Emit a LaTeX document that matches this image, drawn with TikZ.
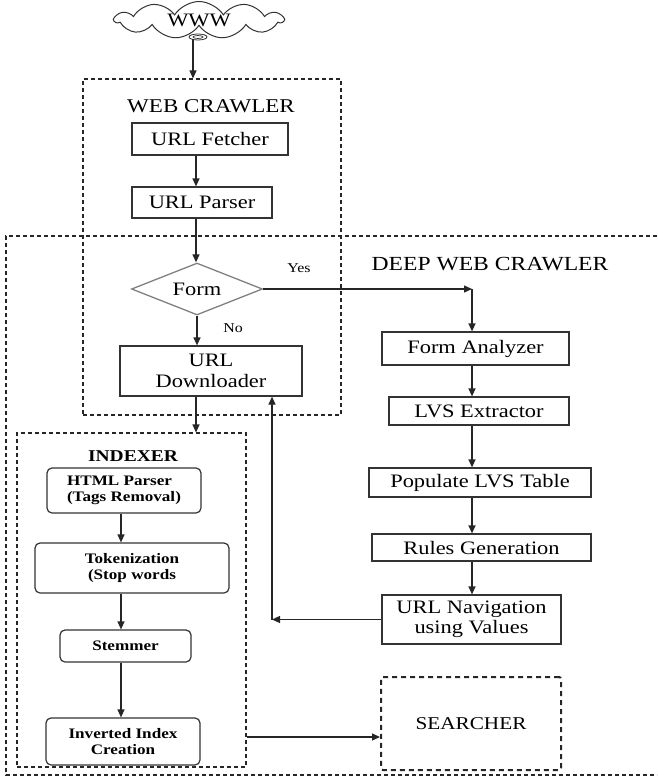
\documentclass[tikz,border=0pt]{standalone}
\usepackage{fontspec}
\setmainfont[FakeStretch=1.18]{Liberation Serif}
\usetikzlibrary{shapes.geometric,shapes.symbols,arrows.meta}
\begin{document}
\begin{tikzpicture}[x=1pt,y=-1pt,
  box/.style={draw=black!80, line width=1.2pt, inner sep=0pt, align=center, font=\fontsize{19}{20.5}\selectfont},
  bbox/.style={box, font=\fontsize{19}{20.5}\selectfont},
  rbox/.style={box, rounded corners=5pt, font=\bfseries\fontsize{14.5}{16.5}\selectfont},
  dbox/.style={draw=black!85, dash pattern=on 4pt off 3pt, line width=1.1pt, inner sep=0pt},
  arr/.style={draw=black!85, line width=1.2pt, -{Triangle[length=8pt,width=7pt]}},
  ttl/.style={font=\fontsize{19.5}{21}\selectfont, inner sep=0pt},
  lbl/.style={font=\fontsize{13.5}{15}\selectfont, inner sep=0pt}]
\useasboundingbox (0,0) rectangle (657,778);

% helper coordinates for connector positions
\coordinate (ca) at (193,39);
\coordinate (cx) at (196,0);
\coordinate (fx) at (197,0);
\coordinate (rx) at (472,0);
\coordinate (fb) at (272,0);
\coordinate (ix) at (121,0);
\coordinate (iy) at (0,737);

% cloud
\node[cloud, draw=black!80, line width=1pt, cloud puffs=11, cloud puff arc=115, aspect=4.6,
      minimum width=168pt, minimum height=37pt, inner sep=0pt, font=\fontsize{19}{20}\selectfont] (www) at (199,20) {WWW};
\draw[black!80, line width=0.8pt, fill=white] (198,37) ellipse [x radius=9pt, y radius=3pt];
\draw[black!80, line width=0.7pt] (198,37) ellipse [x radius=5pt, y radius=1.5pt];

% containers
\node[dbox, minimum width=258pt, minimum height=336pt] (wc) at (212,247) {};
\draw[dbox] (657,236) -- (6,236) -- (6,775) -- (657,775);
\node[dbox, minimum width=229pt, minimum height=334pt] (idx) at (131.5,600) {};

% titles
\node[ttl] (wct) at (211,106) {WEB CRAWLER};
\node[ttl, font=\fontsize{20}{22}\selectfont] (dwt) at (490,264) {DEEP WEB CRAWLER};
\node[ttl, font=\bfseries\fontsize{16.5}{18}\selectfont] (ixt) at (133,456) {INDEXER};

% web crawler
\node[box, minimum width=156pt, minimum height=32pt] (fetch) at (210,139) {URL Fetcher};
\node[box, minimum width=140pt, minimum height=31pt] (parser) at (202,202.5) {URL Parser};
\node[draw=black!50, line width=1.3pt, diamond, aspect=2.5, minimum width=131pt, minimum height=52pt,
      inner sep=0pt, font=\fontsize{19}{20}\selectfont] (form) at (197,289) {Form};
\node[box, minimum width=182pt, minimum height=50pt] (dl) at (211,371) {URL\\Downloader};
\node[lbl] (yes) at (299,268) {Yes};
\node[lbl] (no) at (233,328) {No};

% deep web crawler column
\node[box, minimum width=187pt, minimum height=33pt] (fa) at (475.5,348.5) {Form Analyzer};
\node[box, minimum width=180pt, minimum height=28pt] (lvs) at (479,411) {LVS Extractor};
\node[box, minimum width=222pt, minimum height=29pt] (pop) at (480,482.5) {Populate LVS Table};
\node[bbox, minimum width=219pt, minimum height=27pt] (rules) at (481.5,547.5) {Rules Generation};
\node[bbox, minimum width=179pt, minimum height=49pt] (nav) at (471.5,619.5) {URL Navigation\\using Values};
\node[draw=black!85, dash pattern=on 5pt off 4pt, line width=2pt, rounded corners=2pt,
      minimum width=180pt, minimum height=93pt, inner sep=0pt, font=\fontsize{18}{20}\selectfont] (search) at (471,723.5) {SEARCHER};

% indexer
\node[rbox, align=left, minimum width=154pt, minimum height=45pt] (html) at (124,490.5) {HTML Parser\\(Tags Removal)};
\node[rbox, minimum width=194pt, minimum height=50pt] (tok) at (132,568) {Tokenization\\(Stop words};
\node[rbox, minimum width=131pt, minimum height=32pt] (stem) at (125.5,646) {Stemmer};
\node[rbox, minimum width=154pt, minimum height=47pt] (inv) at (123,741.5) {Inverted Index\\Creation};

% connectors
\draw[arr] (ca) -- (ca |- wc.north);
\draw[arr] (fetch.south -| cx) -- (parser.north -| cx);
\draw[arr] (parser.south -| cx) -- (form.north -| cx);
\draw[arr] (form.south -| fx) -- (dl.north -| fx);
\draw[arr] (form.east) -- (form.east -| rx);
\draw[arr] (form.east -| rx) -- (fa.north -| rx);
\draw[arr] (fa.south -| rx) -- (lvs.north -| rx);
\draw[arr] (lvs.south -| rx) -- (pop.north -| rx);
\draw[arr] (pop.south -| rx) -- (rules.north -| rx);
\draw[arr] (rules.south -| rx) -- (nav.north -| rx);
\draw[arr] (nav.west) -- (nav.west -| fb);
\draw[arr] (nav.west -| fb) -- (dl.south -| fb);
\draw[arr] (dl.south -| cx) -- (idx.north -| cx);
\draw[arr] (html.south -| ix) -- (tok.north -| ix);
\draw[arr] (tok.south -| ix) -- (stem.north -| ix);
\draw[arr] (stem.south -| ix) -- (inv.north -| ix);
\draw[arr] (idx.east |- iy) -- (search.west |- iy);
\end{tikzpicture}
\end{document}
